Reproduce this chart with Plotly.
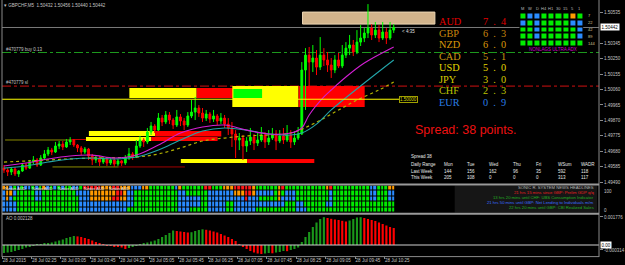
import plotly.graph_objects as go

# ======================= DATA =======================
chart_title = "\u25be GBPCHF,M5  1.50432 1.50456 1.50440 1.50442"
bars = list(range(107))

open_ = [1.49576,1.49564,1.49552,1.49570,1.49540,1.49558,1.49595,1.49576,1.49613,1.49626,
         1.49595,1.49638,1.49663,1.49687,1.49675,1.49712,1.49724,1.49706,1.49737,1.49749,
         1.49718,1.49700,1.49675,1.49693,1.49650,1.49626,1.49638,1.49613,1.49632,1.49607,
         1.49626,1.49601,1.49620,1.49607,1.49638,1.49663,1.49644,1.49712,1.49749,1.49737,
         1.49798,1.49835,1.49810,1.49884,1.49860,1.49903,1.49872,1.49841,1.49891,1.49866,
         1.49841,1.49897,1.49921,1.49946,1.49915,1.49884,1.49909,1.49878,1.49897,1.49866,
         1.49884,1.49847,1.49823,1.49786,1.49749,1.49761,1.49712,1.49743,1.49767,1.49730,
         1.49749,1.49780,1.49737,1.49761,1.49786,1.49743,1.49774,1.49749,1.49780,1.49737,
         1.49761,1.49786,1.50180,1.50272,1.50229,1.50254,1.50198,1.50272,1.50242,1.50211,
         1.50180,1.50242,1.50205,1.50272,1.50315,1.50334,1.50291,1.50352,1.50377,1.50408,
         1.50439,1.50396,1.50426,1.50377,1.50414,1.50377,1.50426]
high = [1.49595,1.49576,1.49583,1.49583,1.49564,1.49607,1.49607,1.49626,1.49650,1.49638,
        1.49656,1.49687,1.49706,1.49700,1.49737,1.49743,1.49743,1.49755,1.49767,1.49755,
        1.49724,1.49712,1.49706,1.49700,1.49663,1.49656,1.49650,1.49644,1.49644,1.49638,
        1.49638,1.49632,1.49626,1.49656,1.49700,1.49675,1.49749,1.49774,1.49761,1.49823,
        1.49860,1.49847,1.49915,1.49903,1.49927,1.49921,1.49884,1.49934,1.49909,1.49884,
        1.49921,1.49995,1.50014,1.49964,1.49946,1.49934,1.49921,1.49934,1.49909,1.49915,
        1.49903,1.49884,1.49860,1.49810,1.49792,1.49780,1.49767,1.49823,1.49786,1.49798,
        1.49829,1.49798,1.49810,1.49823,1.49810,1.49810,1.49823,1.49841,1.49810,1.49804,
        1.49829,1.50229,1.50315,1.50322,1.50334,1.50303,1.50383,1.50315,1.50291,1.50254,
        1.50272,1.50285,1.50334,1.50352,1.50396,1.50365,1.50426,1.50457,1.50439,1.50586,
        1.50463,1.50476,1.50457,1.50476,1.50439,1.50476,1.50463]
low = [1.49546,1.49527,1.49533,1.49527,1.49521,1.49552,1.49564,1.49570,1.49601,1.49583,
       1.49589,1.49626,1.49650,1.49656,1.49669,1.49693,1.49687,1.49700,1.49718,1.49706,
       1.49675,1.49656,1.49663,1.49626,1.49595,1.49607,1.49589,1.49601,1.49589,1.49595,
       1.49583,1.49589,1.49589,1.49595,1.49626,1.49626,1.49638,1.49700,1.49706,1.49724,
       1.49780,1.49792,1.49804,1.49835,1.49847,1.49847,1.49817,1.49829,1.49835,1.49810,
       1.49829,1.49884,1.49872,1.49891,1.49860,1.49866,1.49854,1.49860,1.49841,1.49847,
       1.49823,1.49780,1.49706,1.49638,1.49687,1.49626,1.49675,1.49718,1.49687,1.49712,
       1.49737,1.49700,1.49718,1.49749,1.49687,1.49730,1.49724,1.49737,1.49700,1.49718,
       1.49749,1.49780,1.49934,1.50057,1.50168,1.50149,1.50180,1.50205,1.50168,1.50131,
       1.50161,1.50192,1.50192,1.50254,1.50272,1.50266,1.50278,1.50328,1.50352,1.50377,
       1.50365,1.50377,1.50352,1.50365,1.50340,1.50365,1.50408]
close = [1.49564,1.49552,1.49570,1.49540,1.49558,1.49595,1.49576,1.49613,1.49626,1.49595,
         1.49638,1.49663,1.49687,1.49675,1.49712,1.49724,1.49706,1.49737,1.49749,1.49718,
         1.49700,1.49675,1.49693,1.49650,1.49626,1.49638,1.49613,1.49632,1.49607,1.49626,
         1.49601,1.49620,1.49607,1.49638,1.49663,1.49644,1.49712,1.49749,1.49737,1.49798,
         1.49835,1.49810,1.49884,1.49860,1.49903,1.49872,1.49841,1.49891,1.49866,1.49841,
         1.49897,1.49921,1.49946,1.49915,1.49884,1.49909,1.49878,1.49897,1.49866,1.49884,
         1.49847,1.49823,1.49786,1.49749,1.49761,1.49712,1.49743,1.49767,1.49730,1.49749,
         1.49780,1.49737,1.49761,1.49786,1.49743,1.49774,1.49749,1.49780,1.49737,1.49761,
         1.49786,1.50180,1.50272,1.50229,1.50254,1.50198,1.50272,1.50242,1.50211,1.50180,
         1.50242,1.50205,1.50272,1.50315,1.50334,1.50291,1.50352,1.50377,1.50408,1.50439,
         1.50396,1.50426,1.50377,1.50414,1.50377,1.50426,1.50442]

time_tick_bars = [-0.5, 7.5, 15.5, 23.5, 31.5, 39.5, 47.5, 55.5, 63.5, 71.5, 79.5, 87.5, 95.5, 103.5]
time_tick_labels = ["28 Jul 2015", "28 Jul 02:25", "28 Jul 03:05", "28 Jul 03:45", "28 Jul 04:25",
                    "28 Jul 05:05", "28 Jul 05:45", "28 Jul 06:25", "28 Jul 07:05", "28 Jul 07:45",
                    "28 Jul 08:25", "28 Jul 09:05", "28 Jul 09:45", "28 Jul 10:25"]

price_ticks = [1.50535, 1.50345, 1.50250, 1.50155, 1.50060, 1.49965, 1.49870,
               1.49775, 1.49680, 1.49585, 1.49490]
last_price = 1.50442
buy_price = 1.50288
sl_price = 1.50081
level_price = 1.50000

ma_fast_bars = [0, 6, 12, 18, 24, 30, 36, 42, 48, 54, 60, 66, 72, 78, 81, 83, 87, 89, 93, 98, 106]
ma_fast = [1.49589, 1.49607, 1.49632, 1.49650, 1.49656, 1.49638, 1.49656, 1.49718, 1.49792, 1.49829,
           1.49841, 1.49810, 1.49786, 1.49792, 1.49823, 1.49903, 1.50014, 1.50057, 1.50137, 1.50223, 1.50322]
ma_mid_bars = [0, 6, 12, 18, 24, 30, 36, 42, 48, 54, 60, 66, 72, 78, 81, 85, 89, 98, 106]
ma_mid = [1.49576, 1.49589, 1.49613, 1.49632, 1.49638, 1.49632, 1.49644, 1.49687, 1.49749, 1.49804,
          1.49823, 1.49810, 1.49786, 1.49780, 1.49792, 1.49847, 1.49934, 1.50100, 1.50242]
ma_slow_bars = [0, 12, 24, 36, 42, 48, 54, 60, 66, 72, 78, 84, 90, 96, 102, 106]
ma_slow = [1.49613, 1.49626, 1.49638, 1.49644, 1.49663, 1.49700, 1.49743, 1.49761, 1.49774, 1.49780,
           1.49792, 1.49847, 1.49921, 1.49995, 1.50057, 1.50106]

# supply / demand zones (bar index, price)
zone_start = [34.1, 52.4, 62.1, 62.4, 80.1, 23.1, 41.1, 22.3, 40.1, 48.1, 66.1, 81.2]
zone_end = [52.4, 62.4, 80.1, 70.2, 98.1, 41.1, 59.1, 40.1, 58.1, 66.1, 84.4, 117.2]
zone_top = [1.50069, 1.50069, 1.50081, 1.50063, 1.50081, 1.49804, 1.49804, 1.49767, 1.49767,
            1.49632, 1.49632, 1.50537]
zone_bottom = [1.50008, 1.50008, 1.49952, 1.50008, 1.49952, 1.49774, 1.49770, 1.49743, 1.49743,
               1.49607, 1.49607, 1.50463]
zone_kind = ["y", "r", "y", "g", "r", "y", "r", "y", "r", "y", "r", "t"]

seg_start = [0.3, 18.3, 13.2, 31.2]
seg_end = [18.3, 22.3, 31.2, 49.2]
seg_price = [1.49749, 1.49752, 1.49583, 1.49583]
seg_kind = ["o", "r", "o", "d"]

# multi-pair heat strip (run-length: code, count), 5 rows
heat_rows = [
    [("o",2),("b",1),("g",1),("b",1),("g",1),("b",2),("g",1),("b",1),("g",1),("o",1),
     ("b",1),("g",1),("b",1),("g",1),("b",1),("g",2),("b",2),("g",1),("r",5),("o",3),("r",2),("o",3),
     ("b",3),("o",2),("g",7),("b",1),("o",1),("g",6),("r",2),("g",3),("o",3),("r",5),("o",1),
     ("g",6),("o",1),("r",1),("g",11),("o",1),("r",1),("g",10),("b",2),("g",3),("o",3)],
    [("b",1),("o",2),("b",1),("g",5),("b",2),("g",9),("b",4),("o",7),("r",2),("o",1),("b",2),
     ("g",12),("b",2),("g",6),("b",7),("o",3),("r",2),("o",1),("b",5),("g",1),("o",1),("g",1),
     ("b",3),("g",9),("b",1),("g",10),("b",2),("g",3),("b",3)],
    [("b",1),("o",1),("b",1),("g",6),("b",2),("g",10),("b",3),("o",6),("r",2),("o",2),("b",2),
     ("g",12),("b",6),("g",2),("b",10),("r",1),("b",3),("g",5),("o",1),("b",4),("g",9),("b",1),
     ("g",10),("b",2),("g",3),("b",3)],
    [("b",4),("g",17),("b",15),("g",12),("b",6),("g",2),("b",5),("g",2),("b",14),("g",3),("b",2),
     ("g",6),("b",2),("g",18)],
    [("b",4),("g",17),("b",13),("g",14),("b",3),("g",5),("b",5),("g",2),("b",6),("g",11),("b",3),("g",25)],
]
heat_pair_label = "Nzdus AUD"

# NonLag ultra ADX matrix (timeframes x periods)
adx_timeframes = ["M", "W", "D", "H4", "H1", "30", "15", "5", "1"]
adx_periods = ["7", "22", "42", "89", "144"]
adx_grid = ["gbbggggog", "bgbggggbb", "ggbgggggb", "ggbgggggb", "ggggggggg"]

currencies = ["AUD", "GBP", "NZD", "CAD", "USD", "JPY", "CHF", "EUR"]
strengths = [7.4, 6.3, 6.0, 5.1, 5.0, 3.0, 2.3, 0.9]

spread_points = 38
range_cols = ["Mon", "Tue", "Wed", "Thu", "Fri", "WSum", "WADR"]
last_week = [144, 156, 162, 96, 35, 592, 118]
this_week = [205, 108, 0, 0, 0, 313, 117]

news_lines = ["SONIC R. SYSTEM NEWS HEADLINES",
              "21 hrs 15 mins since GBP: Prelim GDP q/q",
              "13 hrs 20 mins until CHF: UBS Consumption Indicator",
              "21 hrs 50 mins until GBP: Net Lending to Individuals m/m",
              "22 hrs 20 mins until GBP: CBI Realized Sales"]

ao = [-0.000507,-0.000476,-0.000444,-0.000380,-0.000317,-0.000254,-0.000159,-0.000095,-0.000032,0.000032,
      0.000063,0.000095,0.000127,0.000159,0.000222,0.000285,0.000349,0.000444,0.000507,0.000571,
      0.000545,0.000507,0.000444,0.000380,0.000285,0.000190,0.000114,0.000032,-0.000032,-0.000063,
      -0.000095,-0.000127,-0.000159,-0.000254,-0.000190,-0.000095,-0.000032,0.000032,0.000095,0.000159,
      0.000222,0.000285,0.000380,0.000507,0.000634,0.000761,0.000919,0.000888,0.000856,0.000824,
      0.000793,0.000812,0.000888,0.000951,0.000995,0.000964,0.000919,0.000856,0.000793,0.000697,
      0.000602,0.000507,0.000380,0.000254,0.000063,-0.000127,-0.000254,-0.000380,-0.000476,-0.000539,
      -0.000571,-0.000539,-0.000507,-0.000526,-0.000476,-0.000444,-0.000380,-0.000393,-0.000317,-0.000254,
      -0.000159,0.000190,0.000507,0.000824,0.001141,0.001427,0.001648,0.001763,0.001712,0.001661,
      0.001617,0.001585,0.001534,0.001490,0.001553,0.001648,0.001744,0.001763,0.001712,0.001648,
      0.001585,0.001522,0.001427,0.001331,0.001236,0.001141,0.001078]
ao_label = "AO 0.002128"
ao_ticks = [0.001776, -0.000314]

# ======================= STYLE / LAYOUT =======================
W, H = 625, 265
ML, MR, MT, MB = 2, 19, 0, 8
PW, PH = W - ML - MR, H - MT - MB


def px(x):
    return (x - ML) / PW


def py(y):
    return (PH + MT - y) / PH


GREY = "#c4c4c4"
SMALL = "Liberation Sans"
code_val = {"g": 0, "b": 1, "o": 2, "r": 3}
cells_scale = [[0, "#00ec00"], [0.25, "#00ec00"], [0.25, "#2a8cff"], [0.5, "#2a8cff"],
               [0.5, "#ff9a00"], [0.75, "#ff9a00"], [0.75, "#ff1818"], [1, "#ff1818"]]
zone_colors = {"y": "#ffff00", "r": "#ff0000", "g": "#00ff00", "t": "#d2b48c"}
seg_colors = {"o": "#8c8c00", "r": "#c00000", "d": "#a00000"}

fig = go.Figure()

fig.add_trace(go.Candlestick(
    x=bars, open=open_, high=high, low=low, close=close,
    increasing=dict(line=dict(color="#00ff00", width=1), fillcolor="#00ff00"),
    decreasing=dict(line=dict(color="#ff0000", width=1), fillcolor="#ff0000"),
    whiskerwidth=0, xaxis="x", yaxis="y", hoverinfo="skip"))

fig.add_trace(go.Scatter(x=ma_slow_bars, y=ma_slow, mode="lines",
                         line=dict(color="#b4b400", width=1.2, dash="dot", shape="spline"),
                         xaxis="x", yaxis="y", hoverinfo="skip"))
fig.add_trace(go.Scatter(x=ma_mid_bars, y=ma_mid, mode="lines",
                         line=dict(color="#22a4a8", width=1.1, shape="spline"),
                         xaxis="x", yaxis="y", hoverinfo="skip"))
fig.add_trace(go.Scatter(x=ma_fast_bars, y=ma_fast, mode="lines",
                         line=dict(color="#d21ed2", width=1.1, shape="spline"),
                         xaxis="x", yaxis="y", hoverinfo="skip"))

# heat strip
heat_z = []
for row in heat_rows:
    codes = []
    for c, n in row:
        codes += [code_val[c]] * n
    heat_z.append(codes[:len(bars)])
fig.add_trace(go.Heatmap(z=heat_z, x=bars, y=[0, 1, 2, 3, 4], colorscale=cells_scale,
                         zmin=-0.5, zmax=3.5, showscale=False, xgap=1, ygap=1,
                         xaxis="x", yaxis="y2", hoverinfo="skip"))

# ADX matrix
adx_z = [[code_val[c] for c in row] for row in adx_grid]
fig.add_trace(go.Heatmap(z=adx_z, x=list(range(len(adx_timeframes))), y=list(range(len(adx_periods))),
                         colorscale=cells_scale, zmin=-0.5, zmax=3.5, showscale=False,
                         xgap=2, ygap=2, xaxis="x4", yaxis="y4", hoverinfo="skip"))

# AO
ao_colors = ["#1a961a" if i == 0 or ao[i] >= ao[i - 1] else "#ff0000" for i in range(len(ao))]
fig.add_trace(go.Bar(x=bars, y=ao, marker=dict(color=ao_colors, line=dict(width=0)),
                     xaxis="x", yaxis="y3", hoverinfo="skip"))

shapes = []
for s, e, t, b, k in zip(zone_start, zone_end, zone_top, zone_bottom, zone_kind):
    shapes.append(dict(type="rect", xref="x", yref="y", x0=s, x1=e, y0=b, y1=t, layer="below",
                       fillcolor=zone_colors[k],
                       line=dict(width=1 if k == "t" else 0, color="#ecd6b4")))
for s, e, p, k in zip(seg_start, seg_end, seg_price, seg_kind):
    shapes.append(dict(type="line", xref="x", yref="y", x0=s, x1=e, y0=p, y1=p, layer="below",
                       line=dict(color=seg_colors[k], width=1)))
shapes += [
    dict(type="line", xref="paper", yref="y", x0=0, x1=1, y0=last_price, y1=last_price,
         layer="below", line=dict(color="#7a7a7a", width=1)),
    dict(type="line", xref="paper", yref="y", x0=0, x1=1, y0=buy_price, y1=buy_price,
         layer="below", line=dict(color="#1e9a1e", width=1, dash="dashdot")),
    dict(type="line", xref="paper", yref="y", x0=0, x1=1, y0=sl_price, y1=sl_price,
         layer="below", line=dict(color="#d01010", width=1, dash="dashdot")),
    dict(type="line", xref="x", yref="y", x0=-0.6, x1=107.6, y0=level_price, y1=level_price,
         layer="above", line=dict(color="#ffff00", width=1)),
    dict(type="line", xref="paper", yref="y3", x0=0, x1=1, y0=0, y1=0,
         layer="above", line=dict(color="#d0d0d0", width=1)),
    # news box
    dict(type="rect", xref="paper", yref="paper", x0=px(460), x1=px(604), y0=py(212.5), y1=py(185.5),
         fillcolor="#161616", line=dict(width=0), layer="below"),
    # frames
    dict(type="line", xref="paper", yref="paper", x0=0, x1=0, y0=py(257), y1=py(0),
         line=dict(color="#8a8a8a", width=1)),
    dict(type="line", xref="paper", yref="paper", x0=1, x1=1, y0=py(257), y1=py(0),
         line=dict(color="#8a8a8a", width=1)),
    dict(type="line", xref="paper", yref="paper", x0=0, x1=1, y0=py(184.5), y1=py(184.5),
         line=dict(color="#9a9a9a", width=2)),
    dict(type="line", xref="paper", yref="paper", x0=0, x1=1, y0=py(213.8), y1=py(213.8),
         line=dict(color="#9a9a9a", width=2)),
    dict(type="line", xref="paper", yref="paper", x0=0, x1=1, y0=py(256.6), y1=py(256.6),
         line=dict(color="#8a8a8a", width=1)),
]


def note(text, x, y, size=4.5, color=GREY, xanchor="left", yanchor="middle", family=SMALL, **kw):
    return dict(text=text, x=px(x), y=py(y), xref="paper", yref="paper", showarrow=False,
                xanchor=xanchor, yanchor=yanchor, font=dict(size=size, color=color, family=family), **kw)


ann = [
    note(chart_title, 2, 5.5),
    note("#470779 buy 0.13", 4, 49),
    note("#470779 sl", 4, 83),
    note("< 4:35", 405, 31, color="#e0e0e0"),
    dict(text="1.50000", x=px(404), y=level_price, xref="paper", yref="y", showarrow=False,
         xanchor="left", yanchor="middle", font=dict(size=4.5, color="#d8d800", family=SMALL),
         bordercolor="#a0a000", borderwidth=1, borderpad=0, bgcolor="#000000"),
    dict(text="1.50442", x=1.0, y=last_price, xref="paper", yref="y", showarrow=False,
         xanchor="left", yanchor="middle", font=dict(size=4.5, color="#000000", family=SMALL),
         bgcolor="#ffffff", borderpad=0.5, xshift=1),
    note("Spread: %d points." % spread_points, 471, 129.5, size=12.5, color="#ee1111",
         xanchor="center"),
    note("Spread %d" % spread_points, 414, 156, color="#e8e8e8"),
    note("Daily Range", 414, 165, color="#e8e8e8"),
    note("Last Week", 414, 171.5, color="#e8e8e8"),
    note("This Week", 414, 177, color="#e8e8e8"),
    note("NONLAGS ULTRA ADX", 559, 50, size=4.5, color="#d000d0", xanchor="center"),
    note(ao_label, 4, 218.5),
    dict(text="0.00", x=1.0, y=0, xref="paper", yref="y3", showarrow=False, xanchor="left",
         yanchor="middle", font=dict(size=4.5, color="#000000", family=SMALL), bgcolor="#ffffff",
         borderpad=0.5, xshift=1),
    note("100", 609, 191),
    note("0", 609, 210),
]
col_x = [447, 470, 493, 517, 540, 563, 586]
for cx, c, a, b in zip(col_x, range_cols, last_week, this_week):
    ann.append(note(c, cx, 165, color="#e8e8e8"))
    ann.append(note(str(a), cx, 171.5, color="#e8e8e8"))
    ann.append(note(str(b), cx, 177, color="#e8e8e8"))

# currency strength meter (font sized so that the stacked rows do not collide)
cur_colors = ["#e00000", "#c8860c", "#dc9a08", "#cc9a10", "#e4d800", "#d8cc00", "#bcc400", "#2a7ee6"]
row_y = [21.5, 33, 44.5, 56, 67.5, 79, 90.5, 102]
for name, val, col, yy in zip(currencies, strengths, cur_colors, row_y):
    ann.append(note(name, 443, yy, size=10.3, color=col, family="Liberation Serif", borderpad=0))
    ann.append(note("\u2002".join("%.1f" % val), 488, yy, size=10.3, color=col,
                    family="Liberation Serif", borderpad=0))

for i, tf in enumerate(adx_timeframes):
    ann.append(dict(text=tf, x=i, y=py(8), xref="x4", yref="paper", showarrow=False,
                    xanchor="center", yanchor="middle", font=dict(size=4, color="#bdbdbd", family=SMALL)))
for j, per in enumerate(adx_periods):
    ann.append(dict(text=per, x=px(593), y=j, xref="paper", yref="y4", showarrow=False,
                    xanchor="left", yanchor="middle", font=dict(size=4, color="#d8c890", family=SMALL)))

for hx in [3, 30, 57, 83, 108]:
    ann.append(note(heat_pair_label, hx, 188, size=4, color="#f0f0f0"))

news_colors = ["#b4b4b4", "#e82020", "#22b022", "#3a6cff", "#22b022"]
for k, (t, c) in enumerate(zip(news_lines, news_colors)):
    ann.append(note(t, 603, 187.5 + 5 * k, size=4.2, color=c, xanchor="right"))

fig.update_layout(
    width=W, height=H, margin=dict(l=ML, r=MR, t=MT, b=MB),
    paper_bgcolor="#000000", plot_bgcolor="#000000", showlegend=False, bargap=0.42,
    hovermode=False,
    xaxis=dict(domain=[0, 1], range=[-0.538, 161.83], anchor="y3", showgrid=False, zeroline=False,
               rangeslider=dict(visible=False), tickvals=time_tick_bars, ticktext=time_tick_labels,
               ticks="outside", ticklen=2, tickcolor="#8a8a8a", ticklabelposition="outside right",
               tickangle=0, tickfont=dict(size=4.5, color=GREY, family=SMALL), showline=False),
    yaxis=dict(domain=[py(183.5), py(2)], range=[1.49481, 1.50599], anchor="x", side="right",
               showgrid=False, zeroline=False, tickvals=price_ticks,
               ticktext=["%.5f" % v for v in price_ticks], ticks="outside", ticklen=3,
               tickcolor="#8a8a8a", tickfont=dict(size=4.5, color=GREY, family=SMALL)),
    yaxis2=dict(domain=[py(212.5), py(185.5)], range=[4.5, -0.5], anchor="x", showgrid=False,
                zeroline=False, showticklabels=False),
    yaxis3=dict(domain=[py(256), py(215)], range=[-0.000697, 0.001902], anchor="x", side="right",
                showgrid=False, zeroline=False, tickvals=ao_ticks, ticktext=["0.001776", "-0.000314"],
                ticks="outside", ticklen=3, tickcolor="#8a8a8a",
                tickfont=dict(size=4.5, color=GREY, family=SMALL)),
    xaxis4=dict(domain=[px(525.5), px(590)], range=[-0.5, 8.5], anchor="y4", visible=False),
    yaxis4=dict(domain=[py(46.5), py(12.5)], range=[4.5, -0.5], anchor="x4", visible=False),
    shapes=shapes, annotations=ann,
)

fig.write_html("out.html")
